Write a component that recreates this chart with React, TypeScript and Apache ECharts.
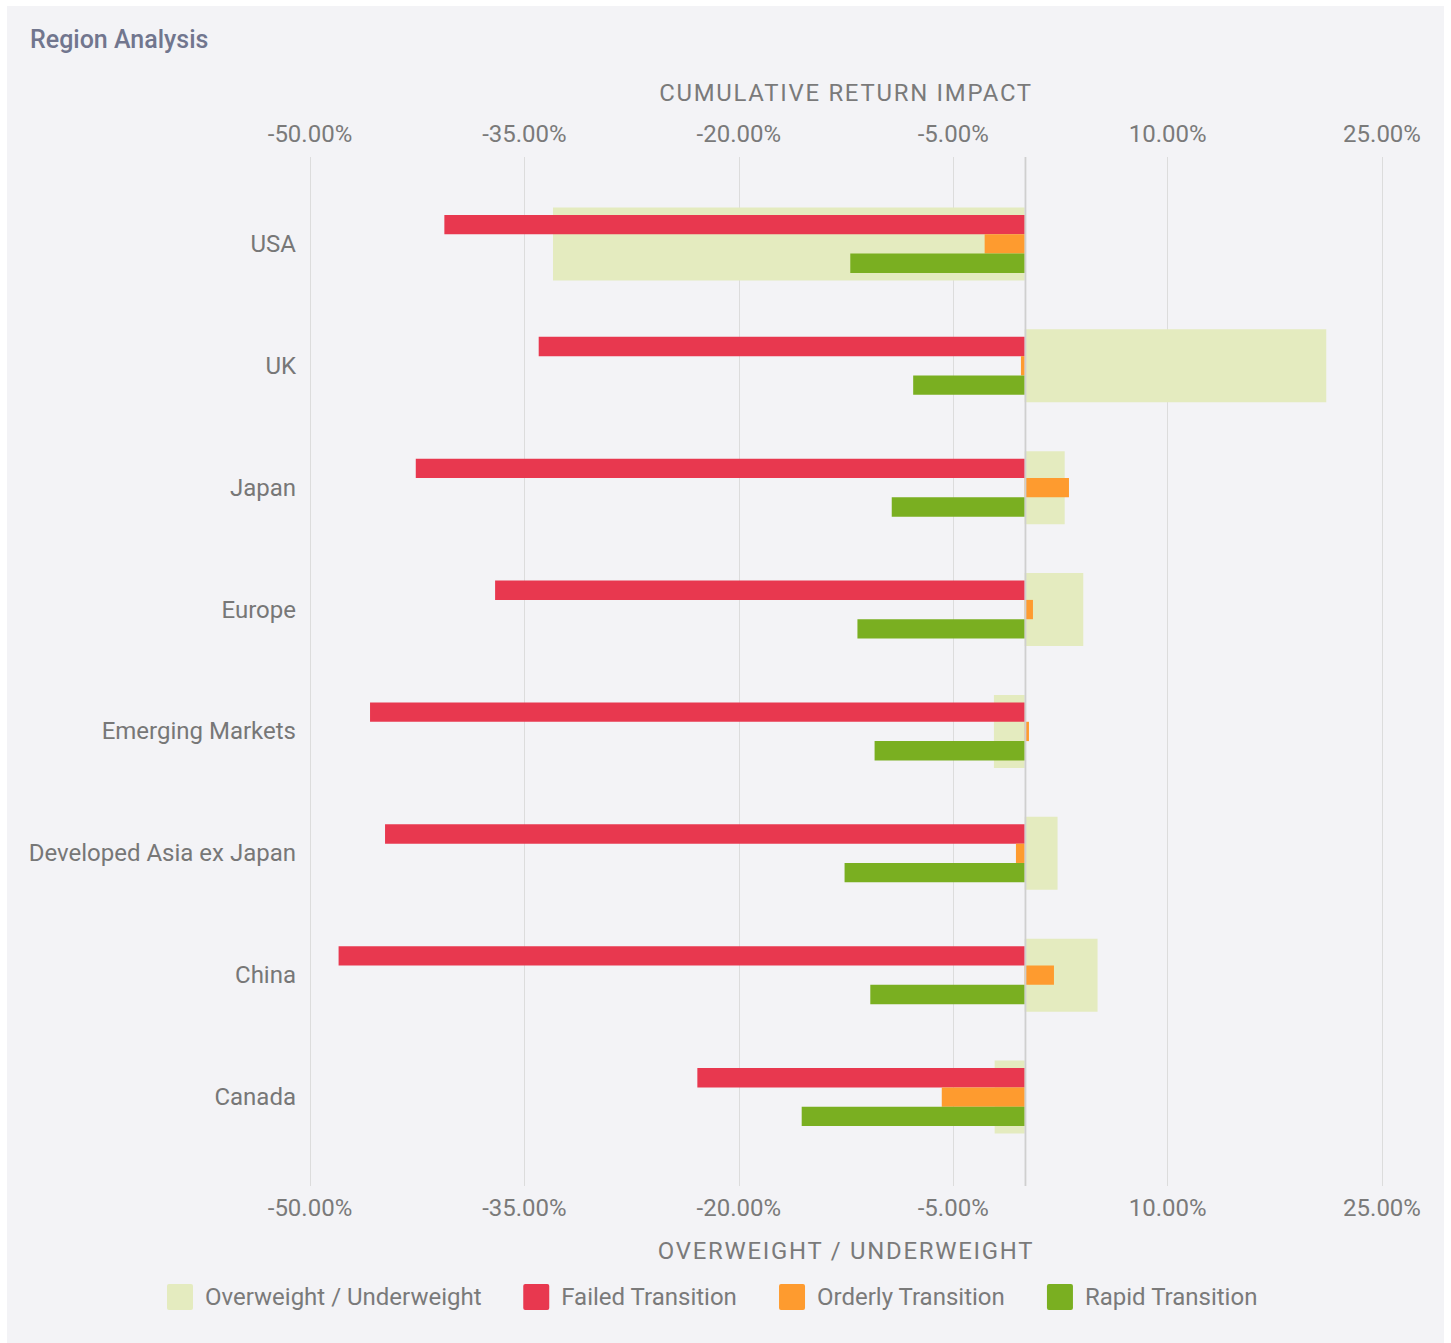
import { useEffect, useRef } from "react";
import * as echarts from "echarts";

const categories = [
  "USA",
  "UK",
  "Japan",
  "Europe",
  "Emerging Markets",
  "Developed Asia ex Japan",
  "China",
  "Canada",
];
const overweight = [-33.0, 21.1, 2.8, 4.1, -2.15, 2.3, 5.1, -2.1];
const failed = [-40.6, -34.0, -42.6, -37.05, -45.8, -44.75, -48.0, -22.9];
const orderly = [-2.8, -0.26, 3.1, 0.58, 0.3, -0.61, 2.05, -5.8];
const rapid = [-12.2, -7.8, -9.3, -11.7, -10.5, -12.6, -10.8, -15.6];

const seriesNames = [
  "Overweight / Underweight",
  "Failed Transition",
  "Orderly Transition",
  "Rapid Transition",
];
const seriesColors = ["#e4ebbf", "#e8384f", "#fe9b2f", "#7aaf21"];

const axisMin = -50;
const axisMax = 25;
const axisStep = 15;

const FONT = "Roboto, sans-serif";
const GRID_TOP = 177;
const GRID_BOTTOM = 185;
const CHART_H = 1337;
const TICK_TOP = 26;
const TICK_BOTTOM = 28;
const LINE_COLOR = "#dcdcdc";
const NAME_SIZE = 23.9;

export default function App() {
  const ref = useRef<HTMLDivElement>(null);

  useEffect(() => {
    if (!ref.current) return;
    const chart = echarts.init(ref.current, null, { renderer: "svg" });

    const xAxisBase = (
      position: string,
      name: string,
      nameGap: number,
      labelMargin: number,
      tickLen: number,
      showSplit: boolean
    ) => ({
      type: "value",
      position,
      min: axisMin,
      max: axisMax,
      interval: axisStep,
      name,
      nameLocation: "middle",
      nameGap,
      nameTextStyle: { fontSize: NAME_SIZE, color: "#7a7a7a", fontFamily: FONT },
      axisLine: { show: false },
      axisTick: { show: true, length: tickLen, lineStyle: { color: LINE_COLOR, width: 1 } },
      axisLabel: {
        margin: labelMargin,
        fontSize: 24,
        color: "#7a7a7a",
        fontFamily: FONT,
        formatter: (v: number) => v.toFixed(2) + "%",
      },
      splitLine: { show: showSplit, lineStyle: { color: LINE_COLOR, width: 1 } },
    });

    const option: any = {
      animation: false,
      backgroundColor: "transparent",
      title: {
        text: "Region Analysis",
        left: 23,
        top: 21,
        padding: 0,
        textStyle: { fontSize: 25, fontWeight: 500, color: "#71768e", fontFamily: FONT },
      },
      legend: {
        left: 160,
        top: 1278,
        padding: 0,
        itemWidth: 26,
        itemHeight: 26,
        itemGap: 41.7,
        icon: "path://M2,0H24A2,2 0 0 1 26,2V24A2,2 0 0 1 24,26H2A2,2 0 0 1 0,24V2A2,2 0 0 1 2,0Z",
        textStyle: { fontSize: 24, color: "#7a7a7a", fontFamily: FONT, padding: [0, 0, 0, 7] },
        data: seriesNames,
      },
      grid: { left: 303, right: 62, top: GRID_TOP, bottom: GRID_BOTTOM, containLabel: false },
      xAxis: [
        xAxisBase("top", "CUMULATIVE RETURN IMPACT", 78, 37, TICK_TOP, true),
        xAxisBase("bottom", "OVERWEIGHT / UNDERWEIGHT", 81, 38, TICK_BOTTOM, false),
      ],
      yAxis: [
        {
          type: "category",
          data: categories,
          inverse: true,
          position: "left",
          axisLine: { show: false },
          axisTick: { show: false },
          splitLine: { show: false },
          axisLabel: { margin: 14, fontSize: 24, color: "#777777", fontFamily: FONT },
        },
        {
          type: "category",
          data: categories,
          inverse: true,
          position: "right",
          show: false,
        },
      ],
      series: [
        {
          name: seriesNames[0],
          type: "bar",
          xAxisIndex: 1,
          yAxisIndex: 1,
          barWidth: 73,
          z: 1,
          itemStyle: { color: seriesColors[0] },
          data: overweight,
        },
        {
          name: seriesNames[1],
          type: "bar",
          xAxisIndex: 0,
          yAxisIndex: 0,
          barWidth: 19.3,
          barGap: "0%",
          z: 2,
          itemStyle: { color: seriesColors[1] },
          data: failed,
        },
        {
          name: seriesNames[2],
          type: "bar",
          xAxisIndex: 0,
          yAxisIndex: 0,
          barWidth: 19.3,
          barGap: "0%",
          z: 2,
          itemStyle: { color: seriesColors[2] },
          data: orderly,
        },
        {
          name: seriesNames[3],
          type: "bar",
          xAxisIndex: 0,
          yAxisIndex: 0,
          barWidth: 19.3,
          barGap: "0%",
          z: 2,
          itemStyle: { color: seriesColors[3] },
          data: rapid,
        },
      ],
    };

    chart.setOption(option);

    const x0 = chart.convertToPixel({ xAxisIndex: 0 } as any, 0) as number;
    chart.setOption({
      graphic: [
        {
          type: "line",
          silent: true,
          z: 100,
          shape: {
            x1: x0 + 0.8,
            y1: GRID_TOP - TICK_TOP,
            x2: x0 + 0.8,
            y2: CHART_H - GRID_BOTTOM + TICK_BOTTOM,
          },
          style: { stroke: "#cfcfcf", lineWidth: 1.8 },
        },
      ],
    });

    return () => chart.dispose();
  }, []);

  return (
    <>
      <style>{`.rc text[style*="${NAME_SIZE}px"]{letter-spacing:1.75px}`}</style>
      <div
        className="rc"
        ref={ref}
        style={{
          position: "absolute",
          left: 7,
          top: 6,
          width: 1437,
          height: CHART_H,
          background: "#f3f3f6",
        }}
      />
    </>
  );
}
